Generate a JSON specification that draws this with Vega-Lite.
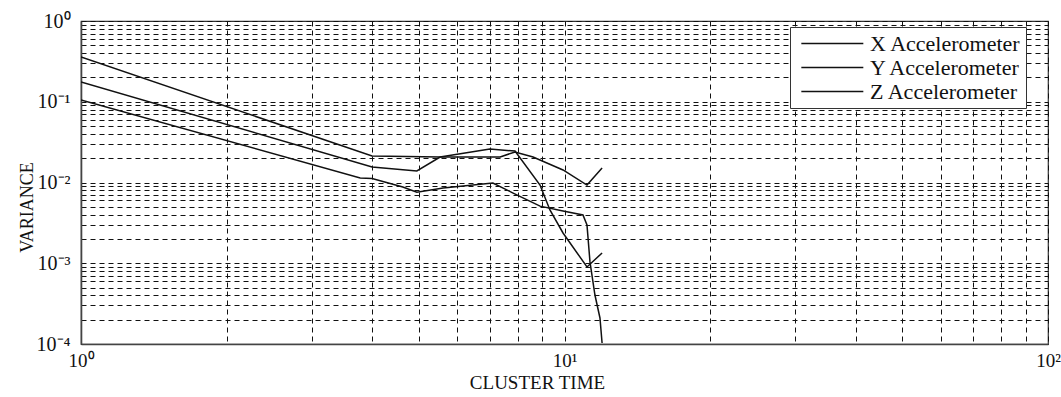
{
  "$schema": "https://vega.github.io/schema/vega-lite/v6.json",
  "width": 967,
  "height": 323,
  "autosize": {"type": "none"},
  "padding": {"left": 81, "top": 21, "right": 13, "bottom": 53},
  "background": "white",
  "config": {
    "view": {"stroke": "#333", "strokeWidth": 1.2},
    "font": "Liberation Serif",
    "axis": {
      "gridDash": [5, 4],
      "gridColor": "#111",
      "gridOpacity": 1,
      "gridWidth": 1,
      "domainColor": "#444",
      "domainWidth": 1.6,
      "ticks": false,
      "labelFont": "Liberation Serif",
      "labelFontSize": 20,
      "labelColor": "#111",
      "titleFont": "Liberation Serif",
      "titleFontWeight": "normal",
      "titleColor": "#111",
      "labelOverlap": false,
      "labelFlush": false
    }
  },
  "data": {
    "values": [
      {"series": "X Accelerometer", "x": 1, "y": 0.358},
      {"series": "X Accelerometer", "x": 4, "y": 0.0213},
      {"series": "X Accelerometer", "x": 5.53, "y": 0.0207},
      {"series": "X Accelerometer", "x": 7.36, "y": 0.0207},
      {"series": "X Accelerometer", "x": 7.9, "y": 0.0239},
      {"series": "X Accelerometer", "x": 8.61, "y": 0.0207},
      {"series": "X Accelerometer", "x": 9.93, "y": 0.0143},
      {"series": "X Accelerometer", "x": 11.13, "y": 0.0093},
      {"series": "X Accelerometer", "x": 11.96, "y": 0.0151},
      {"series": "Y Accelerometer", "x": 1, "y": 0.176},
      {"series": "Y Accelerometer", "x": 4, "y": 0.0156},
      {"series": "Y Accelerometer", "x": 4.95, "y": 0.0139},
      {"series": "Y Accelerometer", "x": 5.53, "y": 0.0207},
      {"series": "Y Accelerometer", "x": 7.01, "y": 0.026},
      {"series": "Y Accelerometer", "x": 7.9, "y": 0.0245},
      {"series": "Y Accelerometer", "x": 8.9, "y": 0.0093},
      {"series": "Y Accelerometer", "x": 9.33, "y": 0.00457},
      {"series": "Y Accelerometer", "x": 9.93, "y": 0.00237},
      {"series": "Y Accelerometer", "x": 11.13, "y": 0.0009},
      {"series": "Y Accelerometer", "x": 11.96, "y": 0.00134},
      {"series": "Z Accelerometer", "x": 1, "y": 0.105},
      {"series": "Z Accelerometer", "x": 3.78, "y": 0.0114},
      {"series": "Z Accelerometer", "x": 4.0, "y": 0.0112},
      {"series": "Z Accelerometer", "x": 4.63, "y": 0.0088},
      {"series": "Z Accelerometer", "x": 4.95, "y": 0.0076},
      {"series": "Z Accelerometer", "x": 5.61, "y": 0.00855},
      {"series": "Z Accelerometer", "x": 7.11, "y": 0.00986},
      {"series": "Z Accelerometer", "x": 7.83, "y": 0.0074},
      {"series": "Z Accelerometer", "x": 8.9, "y": 0.0051},
      {"series": "Z Accelerometer", "x": 9.93, "y": 0.00444},
      {"series": "Z Accelerometer", "x": 10.92, "y": 0.00396},
      {"series": "Z Accelerometer", "x": 11.13, "y": 0.00298},
      {"series": "Z Accelerometer", "x": 11.29, "y": 0.00104},
      {"series": "Z Accelerometer", "x": 11.56, "y": 0.000404},
      {"series": "Z Accelerometer", "x": 11.84, "y": 0.00021},
      {"series": "Z Accelerometer", "x": 11.96, "y": 0.000103}
    ]
  },
  "mark": {"type": "line", "strokeWidth": 1.5, "clip": true},
  "encoding": {
    "x": {
      "field": "x",
      "type": "quantitative",
      "scale": {"type": "log", "domain": [1, 100], "nice": false},
      "axis": {
        "title": "CLUSTER TIME",
        "titleFontSize": 19,
        "titleX": 456,
        "titleY": 44,
        "titleBaseline": "alphabetic",
        "titleAnchor": null,
        "values": [1, 2, 3, 4, 5, 6, 7, 8, 9, 10, 20, 30, 40, 50, 60, 70, 80, 90, 100],
        "labelExpr": "datum.value == 1 ? '10⁰' : datum.value == 10 ? '10¹' : datum.value == 100 ? '10²' : ''",
        "labelFontSize": 19,
        "labelBaseline": "alphabetic",
        "labelPadding": 22
      }
    },
    "y": {
      "field": "y",
      "type": "quantitative",
      "scale": {"type": "log", "domain": [0.0001, 1], "nice": false},
      "axis": {
        "title": "VARIANCE",
        "titleFontSize": 18,
        "titleX": -49,
        "titleY": 186,
        "titleBaseline": "alphabetic",
        "titleAnchor": null,
        "values": [0.0001, 0.0002, 0.0003, 0.0004, 0.0005, 0.0006, 0.0007, 0.0008, 0.0009, 0.001, 0.002, 0.003, 0.004, 0.005, 0.006, 0.007, 0.008, 0.009, 0.01, 0.02, 0.03, 0.04, 0.05, 0.06, 0.07, 0.08, 0.09, 0.1, 0.2, 0.3, 0.4, 0.5, 0.6, 0.7, 0.8, 0.9, 1],
        "labelExpr": "datum.value == 1 ? '10⁰' : datum.value == 0.1 ? '10⁻¹' : datum.value == 0.01 ? '10⁻²' : datum.value == 0.001 ? '10⁻³' : datum.value == 0.0001 ? '10⁻⁴' : ''",
        "labelPadding": 11
      }
    },
    "color": {
      "field": "series",
      "type": "nominal",
      "scale": {"range": ["#111", "#111", "#111"]},
      "legend": {
        "title": null,
        "orient": "none",
        "legendX": 709,
        "legendY": 6,
        "symbolType": "M-0.5,0H5.5",
        "symbolSize": 427,
        "symbolStrokeWidth": 1.4,
        "symbolFillColor": "transparent",
        "labelFont": "Liberation Serif",
        "labelFontSize": 22,
        "labelColor": "#111",
        "labelOffset": 52,
        "padding": 5,
        "rowPadding": 1,
        "fillColor": "white",
        "strokeColor": "#333"
      }
    }
  }
}
